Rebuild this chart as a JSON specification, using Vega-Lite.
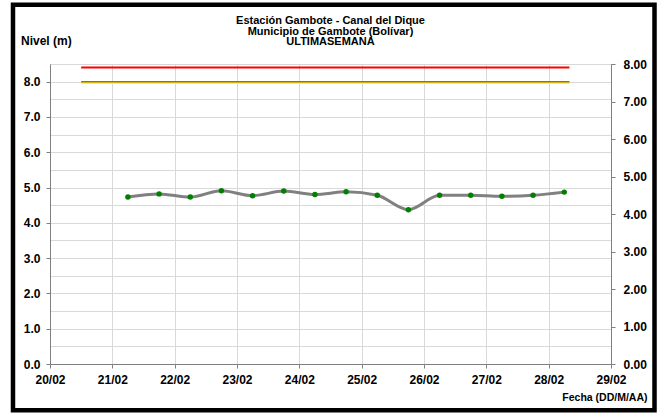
{
  "$schema": "https://vega.github.io/schema/vega-lite/v6.json",
  "width": 561,
  "height": 300,
  "autosize": {"type": "none"},
  "padding": {"left": 50, "top": 64, "right": 50, "bottom": 49},
  "background": "white",
  "config": {
    "font": "Liberation Sans",
    "view": {"stroke": "#9a9a9a", "strokeWidth": 1},
    "axis": {
      "labelFont": "Liberation Sans",
      "labelFontWeight": "bold",
      "labelFontSize": 12,
      "labelColor": "black",
      "titleFont": "Liberation Sans",
      "titleFontWeight": "bold",
      "titleFontSize": 10.5,
      "titleColor": "black",
      "domainColor": "#808080",
      "tickColor": "#808080",
      "gridColor": "#d9d9d9"
    }
  },
  "title": {
    "text": ["Estación Gambote - Canal del Dique", "Municipio de Gambote (Bolívar)", "ULTIMASEMANA"],
    "fontSize": 11,
    "fontWeight": "bold",
    "font": "Liberation Sans",
    "lineHeight": 10.5,
    "anchor": "middle",
    "offset": 0,
    "dy": 45,
    "color": "black"
  },
  "datasets": {
    "nivel": [
      {"fecha": "2024-02-21T06:00:00", "nivel": 4.73},
      {"fecha": "2024-02-21T18:00:00", "nivel": 4.82},
      {"fecha": "2024-02-22T06:00:00", "nivel": 4.73},
      {"fecha": "2024-02-22T18:00:00", "nivel": 4.91},
      {"fecha": "2024-02-23T06:00:00", "nivel": 4.77},
      {"fecha": "2024-02-23T18:00:00", "nivel": 4.90},
      {"fecha": "2024-02-24T06:00:00", "nivel": 4.80},
      {"fecha": "2024-02-24T18:00:00", "nivel": 4.88},
      {"fecha": "2024-02-25T06:00:00", "nivel": 4.78},
      {"fecha": "2024-02-25T18:00:00", "nivel": 4.37},
      {"fecha": "2024-02-26T06:00:00", "nivel": 4.78},
      {"fecha": "2024-02-26T18:00:00", "nivel": 4.78},
      {"fecha": "2024-02-27T06:00:00", "nivel": 4.75},
      {"fecha": "2024-02-27T18:00:00", "nivel": 4.78},
      {"fecha": "2024-02-28T06:00:00", "nivel": 4.87}
    ],
    "umbrales": [
      {"serie": "amarillo", "fecha": "2024-02-20T12:00:00", "nivel": 7.97},
      {"serie": "amarillo", "fecha": "2024-02-28T08:00:00", "nivel": 7.97},
      {"serie": "cafe", "fecha": "2024-02-20T12:00:00", "nivel": 8.0},
      {"serie": "cafe", "fecha": "2024-02-28T08:00:00", "nivel": 8.0},
      {"serie": "rojo", "fecha": "2024-02-20T12:00:00", "nivel": 8.4},
      {"serie": "rojo", "fecha": "2024-02-28T08:00:00", "nivel": 8.4}
    ]
  },
  "layer": [
    {
      "encoding": {
        "x": {
          "field": "fecha",
          "type": "temporal",
          "scale": {"domain": [{"year": 2024, "month": 2, "date": 20}, {"year": 2024, "month": 2, "date": 29}]},
          "axis": {
            "format": "%d/%m",
            "tickCount": {"interval": "day", "step": 1},
            "grid": true,
            "tickSize": 4,
            "labelPadding": 6,
            "labelFlush": false,
            "labelOverlap": false,
            "title": "Fecha (DD/M/AA)",
            "titleAnchor": "end",
            "titleAlign": "right",
            "titleBaseline": "middle",
            "titleX": 597,
            "titleY": 33.5
          }
        },
        "y": {
          "field": "nivel",
          "type": "quantitative",
          "scale": {"domain": [0, 8.5], "nice": false, "zero": false},
          "axis": {
            "values": [0, 0.5, 1, 1.5, 2, 2.5, 3, 3.5, 4, 4.5, 5, 5.5, 6, 6.5, 7, 7.5, 8, 8.5],
            "labelExpr": "datum.value % 1 === 0 ? format(datum.value, '.1f') : ''",
            "tickOpacity": {"condition": {"test": "datum.value % 1 === 0", "value": 1}, "value": 0},
            "tickSize": 4,
            "labelPadding": 6,
            "grid": true,
            "title": "Nivel (m)",
            "titleFontSize": 12,
            "titleAngle": 0,
            "titleAlign": "left",
            "titleBaseline": "middle",
            "titleX": -29.5,
            "titleY": -23.5
          }
        }
      },
      "layer": [
        {
          "data": {"values": [{"desde": "2024-02-19T09:45:00", "hasta": "2024-02-29T16:45:00", "arriba": 10.18, "abajo": -1.31}]},
          "mark": {"type": "rect", "fill": "transparent", "stroke": "black", "strokeWidth": 4.5, "clip": false},
          "encoding": {
            "x": {"field": "desde", "type": "temporal"},
            "x2": {"field": "hasta"},
            "y": {"field": "arriba", "type": "quantitative"},
            "y2": {"field": "abajo"}
          }
        },
        {
          "data": {"name": "umbrales"},
          "transform": [{"filter": "datum.serie === 'amarillo'"}],
          "mark": {"type": "line", "color": "#ffff00", "strokeWidth": 2.5}
        },
        {
          "data": {"name": "umbrales"},
          "transform": [{"filter": "datum.serie === 'cafe'"}],
          "mark": {"type": "line", "color": "#9c6a2c", "strokeWidth": 1.5}
        },
        {
          "data": {"name": "umbrales"},
          "transform": [{"filter": "datum.serie === 'rojo'"}],
          "mark": {"type": "line", "color": "#ff0000", "strokeWidth": 2}
        },
        {
          "data": {"name": "nivel"},
          "mark": {"type": "line", "color": "#808080", "strokeWidth": 3, "interpolate": "monotone"}
        },
        {
          "data": {"name": "nivel"},
          "mark": {"type": "circle", "color": "#008000", "size": 30, "opacity": 1}
        }
      ]
    },
    {
      "data": {"values": [{"marco": "eje"}]},
      "mark": {"type": "rule", "opacity": 0},
      "encoding": {
        "y": {
          "datum": 0,
          "type": "quantitative",
          "scale": {"domain": [0, 8], "nice": false},
          "axis": {
            "orient": "right",
            "values": [0, 1, 2, 3, 4, 5, 6, 7, 8],
            "format": ".2f",
            "grid": false,
            "tickSize": 4,
            "labelPadding": 8,
            "title": null
          }
        }
      }
    }
  ],
  "resolve": {"scale": {"y": "independent"}}
}
